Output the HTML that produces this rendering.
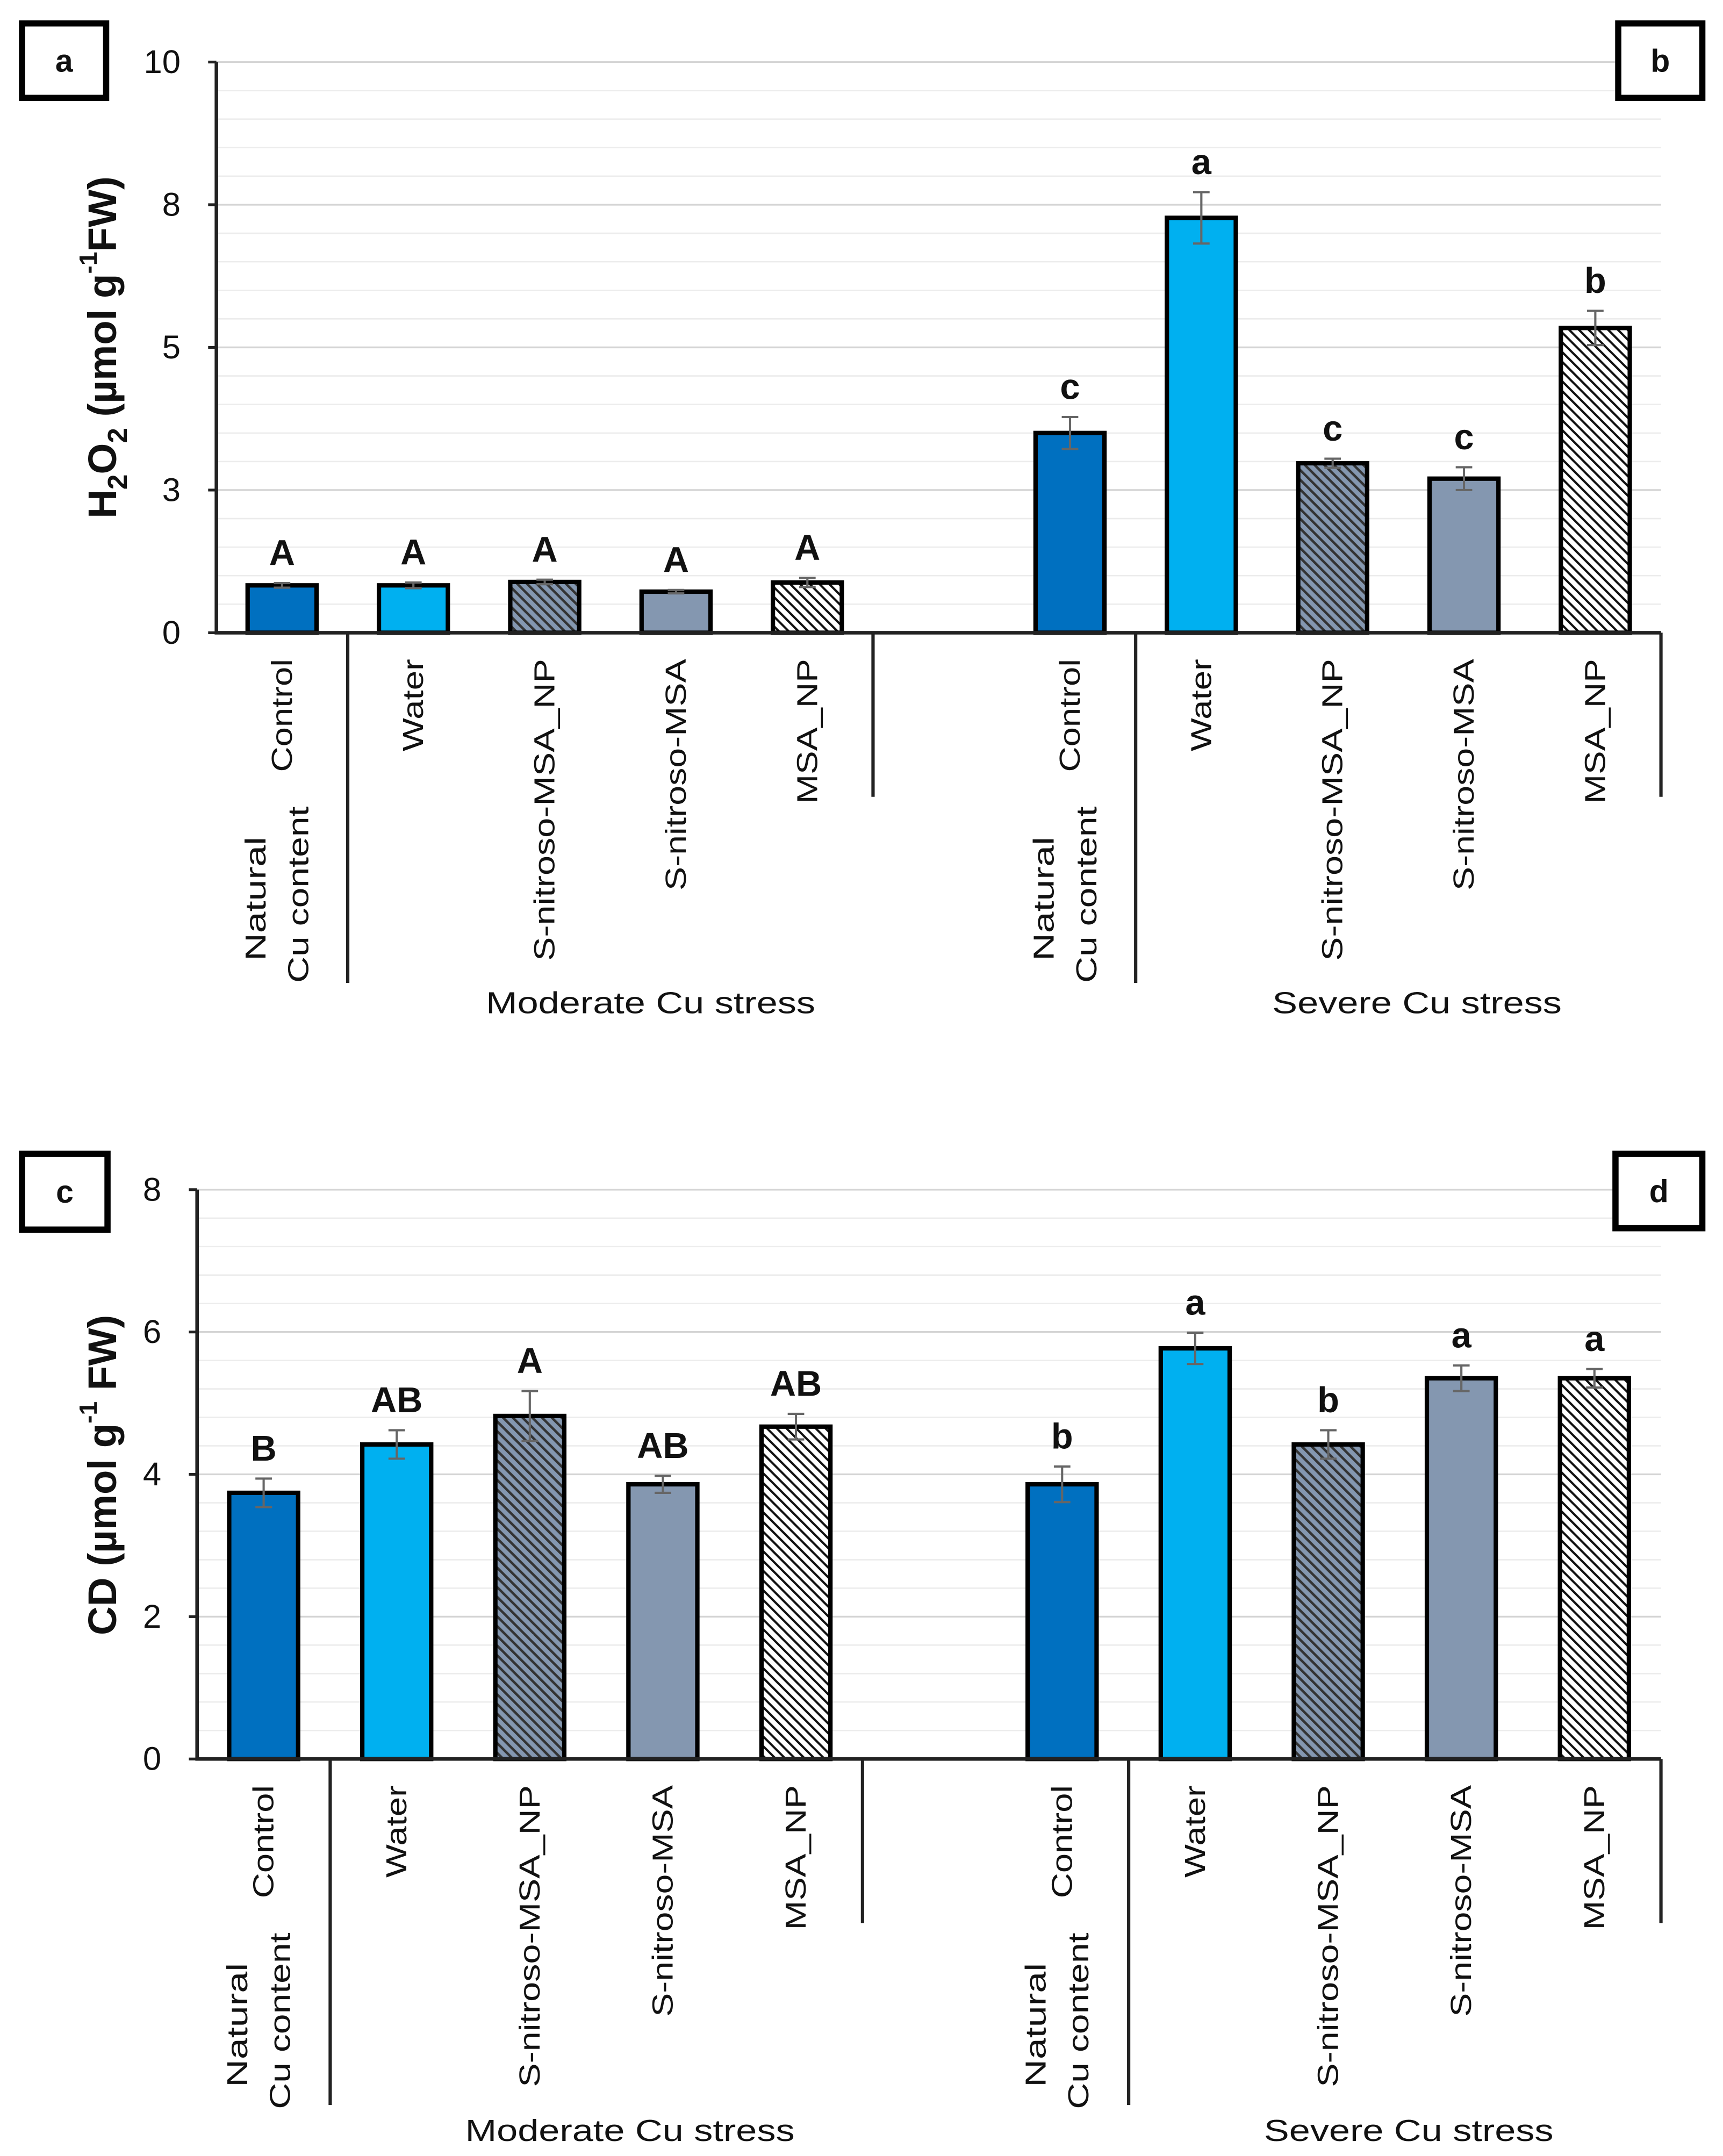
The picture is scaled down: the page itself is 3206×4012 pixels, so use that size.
<!DOCTYPE html>
<html><head><meta charset="utf-8"><style>
html,body{margin:0;padding:0;background:#fff;}
svg{display:block;font-family:"Liberation Sans",Arial,sans-serif;}
</style></head><body>
<svg id="fig" width="3206" height="4012" viewBox="0 0 1250 1564" preserveAspectRatio="none" xmlns="http://www.w3.org/2000/svg">
<defs>
<pattern id="hatchDark" patternUnits="userSpaceOnUse" width="5" height="5" patternTransform="rotate(-45)">
<rect width="5" height="5" fill="#8497B0"/><rect x="0" y="0" width="1.8" height="5" fill="#333"/>
</pattern>
<pattern id="hatchLight" patternUnits="userSpaceOnUse" width="5" height="5" patternTransform="rotate(-45)">
<rect width="5" height="5" fill="#fff"/><rect x="0" y="0" width="1.6" height="5" fill="#111"/>
</pattern>
</defs>
</svg>
<script>
// ---- data ----
const categories = ["Control","Water","S-nitroso-MSA_NP","S-nitroso-MSA","MSA_NP"];
const h2o2Moderate = [0.83,0.83,0.89,0.72,0.88];
const h2o2ModerateErr = [0.04,0.05,0.04,0.03,0.08];
const h2o2Severe = [3.50,7.27,2.97,2.70,5.34];
const h2o2SevereErr = [0.28,0.45,0.08,0.2,0.3];
const h2o2ModLetters = ["A","A","A","A","A"];
const h2o2SevLetters = ["c","a","c","c","b"];
const h2o2Ticks = [0,2.5,5,7.5,10];
const h2o2TickLabels = ["0","3","5","8","10"];
const cdModerate = [3.74,4.42,4.82,3.86,4.67];
const cdModerateErr = [0.2,0.2,0.35,0.12,0.18];
const cdSevere = [3.86,5.77,4.42,5.35,5.35];
const cdSevereErr = [0.25,0.22,0.2,0.18,0.13];
const cdModLetters = ["B","AB","A","AB","AB"];
const cdSevLetters = ["b","a","b","a","a"];
const cdTicks = [0,2,4,6,8];
const cdTickLabels = ["0","2","4","6","8"];

const fills = ["#0070C0","#00B0F0","url(#hatchDark)","#8497B0","url(#hatchLight)"];
const NS="http://www.w3.org/2000/svg";
const svg=document.getElementById('fig');
function mk(tag,attrs,parent){const e=document.createElementNS(NS,tag);for(const k in attrs)e.setAttribute(k,attrs[k]);(parent||svg).appendChild(e);return e;}

function drawPanel(o){
  const g=mk('g',{});
  
  
  const slot=(o.right-o.x0)/11;
  const y=v=>o.zero-(v/o.max)*(o.zero-o.top);
  const cx=i=>o.x0+slot*(i+0.5);
  for(let v=0;v<=o.max+1e-9;v+=o.minor){
    const major=o.ticks.some(t=>Math.abs(t-v)<1e-6);
    const l=mk('line',{x1:o.x0,x2:o.right,y1:y(v),y2:y(v),stroke:major?'#d4d4d4':'#ececec','stroke-width':major?1.3:1},g);
    
    
  }
  o.ticks.forEach((t,i)=>{
    mk('line',{x1:o.x0-6,x2:o.x0,y1:y(t),y2:y(t),stroke:'#222','stroke-width':2},g);
    const tx=mk('text',{x:o.x0-26,y:y(t)+8,'text-anchor':'end','font-size':24,fill:'#111'},g);
    tx.textContent=o.tickLabels[i];
    
    
  });
  const all=[];
  o.mod.forEach((v,i)=>all.push({slot:i,v,e:o.modErr[i],l:o.modL[i],c:i,grp:'moderate'}));
  o.sev.forEach((v,i)=>all.push({slot:6+i,v,e:o.sevErr[i],l:o.sevL[i],c:i,grp:'severe'}));
  all.forEach(b=>{
    const x=cx(b.slot),w=o.bw;
    const r=mk('rect',{x:x-w/2,y:y(b.v),width:w,height:o.zero-y(b.v),fill:fills[b.c],stroke:'#000','stroke-width':3.2},g);
    
    
    const eb=mk('path',{d:`M${x},${y(b.v+b.e)}V${y(b.v-b.e)}M${x-6},${y(b.v+b.e)}H${x+6}M${x-6},${y(b.v-b.e)}H${x+6}`,stroke:'#666','stroke-width':1.6,fill:'none'},g);
    
    
    const lt=mk('text',{x:x,y:y(b.v+b.e)-13,'text-anchor':'middle','font-size':26,'font-weight':'bold',fill:'#111'},g);
    lt.textContent=b.l;
    
    
  });
  const ax=mk('path',{d:`M${o.x0},${o.top}V${o.zero}H${o.right}`,stroke:'#222','stroke-width':2.6,fill:'none'},g);
  
  
  [[1,o.longB],[5,o.shortB],[7,o.longB],[11,o.shortB]].forEach(s=>{
    const xx=o.x0+slot*s[0];
    const l=mk('line',{x1:xx,x2:xx,y1:o.zero,y2:s[1],stroke:'#222','stroke-width':2.4},g);
    
    
  });
  function vtext(txt,x,yb,len){
    const t=mk('text',{transform:`translate(${x},${yb}) rotate(-90)`,'dominant-baseline':'central','font-size':21,fill:'#111',textLength:len,lengthAdjust:'spacingAndGlyphs'},g);
    t.textContent=txt;
    
    
  }
  const t0=o.zero+19;
  [0,6].forEach(base=>{
    vtext('Control',cx(base),t0+82,82);
    vtext('Natural',cx(base)-19,t0+219,90);
    vtext('Cu content',cx(base)+12,t0+235,128);
    vtext('Water',cx(base+1),t0+67,67);
    vtext('S-nitroso-MSA_NP',cx(base+2),t0+219,219);
    vtext('S-nitroso-MSA',cx(base+3),t0+168,168);
    vtext('MSA_NP',cx(base+4),t0+105,105);
  });
  const gm=mk('text',{x:o.modCx,y:o.grpY,'text-anchor':'middle','font-size':22,fill:'#111',textLength:239,lengthAdjust:'spacingAndGlyphs'},g);
  gm.textContent='Moderate Cu stress';
  
  
  const gs=mk('text',{x:o.sevCx,y:o.grpY,'text-anchor':'middle','font-size':22,fill:'#111',textLength:210,lengthAdjust:'spacingAndGlyphs'},g);
  gs.textContent='Severe Cu stress';
  
  
  o.boxes.forEach(b=>{
    const r=mk('rect',{x:b[0],y:b[1],width:b[2],height:b[3],fill:'#fff',stroke:'#000','stroke-width':4.5},g);
    
    
    const t=mk('text',{x:b[0]+b[2]/2,y:b[1]+b[3]/2+8,'text-anchor':'middle','font-size':23,'font-weight':'bold',fill:'#111'},g);
    t.textContent=b[4];
    
    
  });
  return g;
}

drawPanel({name:'h2o2-chart',x0:157,right:1205,top:45,zero:459,max:10,minor:0.5,ticks:h2o2Ticks,tickLabels:h2o2TickLabels,
  mod:h2o2Moderate,modErr:h2o2ModerateErr,sev:h2o2Severe,sevErr:h2o2SevereErr,modL:h2o2ModLetters,sevL:h2o2SevLetters,
  bw:50,longB:713,shortB:578,modCx:472,sevCx:1028,grpY:735,
  boxes:[[16,17,61,54,'a'],[1174,17,61,54,'b']]});
drawPanel({name:'cd-chart',x0:143,right:1205,top:863,zero:1276,max:8,minor:0.4,ticks:cdTicks,tickLabels:cdTickLabels,
  mod:cdModerate,modErr:cdModerateErr,sev:cdSevere,sevErr:cdSevereErr,modL:cdModLetters,sevL:cdSevLetters,
  bw:50,longB:1527,shortB:1395,modCx:457,sevCx:1022,grpY:1553,
  boxes:[[16,837,62,55,'c'],[1172,837,63,54,'d']]});

function ytitle(parts,cx,cy,name){
  const t=mk('text',{transform:`translate(${cx},${cy}) rotate(-90)`,'text-anchor':'middle','dominant-baseline':'central','font-size':29,'font-weight':'bold',fill:'#111'});
  
  
  parts.forEach(p=>{const s=mk('tspan',p[1]==='sub'?{'baseline-shift':'sub','font-size':20}:p[1]==='sup'?{'baseline-shift':'super','font-size':18}:{},t);s.textContent=p[0];});
}
ytitle([["H"],["2","sub"],["O"],["2","sub"],[" (µmol g"],["-1","sup"],["FW)"]],74,252,'y-axis-title-h2o2');
ytitle([["CD (µmol g"],["-1","sup"],[" FW)"]],74,1070,'y-axis-title-cd');
</script>
</body></html>
